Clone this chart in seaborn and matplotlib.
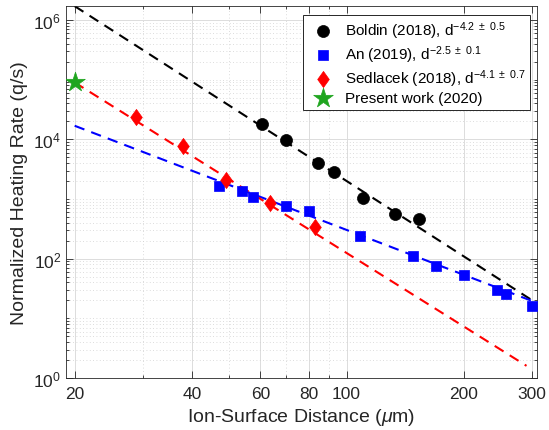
import numpy as np
import pandas as pd
import matplotlib
matplotlib.use("Agg")
import matplotlib.pyplot as plt
import matplotlib.ticker as mticker
from matplotlib.path import Path
import seaborn as sns

# --- data ---
boldin_d = [60.7, 70.0, 84.4, 92.7, 110.4, 133.4, 153.3]
boldin_q = [1.79e4, 9.86e3, 3.96e3, 2.87e3, 1.04e3, 567, 457]

an_d = [47.0, 53.8, 57.4, 70.0, 80.0, 108.0, 148.0, 170.0, 200.0, 244.0, 257.0, 300.0]
an_q = [1.65e3, 1.35e3, 1.08e3, 755, 629, 243, 112, 76, 52.6, 30.2, 25.6, 16.1]

sed_d = [28.7, 38.0, 49.1, 63.6, 82.7]
sed_q = [2.34e4, 7.82e3, 2.07e3, 847, 339]

present_d = [20.0]
present_q = [9.0e4]

# end points of the power-law fits (straight on log-log)
boldin_fit_d = [20, 300]
boldin_fit_q = [1.71e6, 20.0]
an_fit_d = [20, 300]
an_fit_q = [1.69e4, 19.5]
sed_fit_d = [20, 290]
sed_fit_q = [9.0e4, 1.6]

x_ticks = [20, 40, 60, 80, 100, 200, 300]
y_ticks = [1e0, 1e2, 1e4, 1e6]

labels = [
    r"Boldin (2018), d$^{-4.2\ \pm\ 0.5}$",
    r"An (2019), d$^{-2.5\ \pm\ 0.1}$",
    r"Sedlacek (2018), d$^{-4.1\ \pm\ 0.7}$",
    "Present work (2020)",
]

# --- style ---
sns.set_style("ticks")
plt.rcParams["font.family"] = ["Liberation Sans", "DejaVu Sans"]
plt.rcParams["mathtext.fontset"] = "custom"
plt.rcParams["mathtext.rm"] = "Liberation Sans"
plt.rcParams["mathtext.it"] = "Liberation Sans:italic"
plt.rcParams["mathtext.bf"] = "Liberation Sans:bold"

axis_col = "#262626"
green = "#1fa51f"

# MATLAB-like diamond (wider than matplotlib's thin 'd')
diamond = Path([(0, 1), (0.72, 0), (0, -1), (-0.72, 0), (0, 1)],
               [Path.MOVETO, Path.LINETO, Path.LINETO, Path.LINETO, Path.CLOSEPOLY])

fig = plt.figure(figsize=(5.49, 4.31), dpi=100)
ax = fig.add_axes([0.1202, 0.1206, 0.8574, 0.8639])

fits = [
    (boldin_fit_d, boldin_fit_q, "black"),
    (an_fit_d, an_fit_q, "#0000ff"),
    (sed_fit_d, sed_fit_q, "#ff0000"),
]
for d, q, c in fits:
    sns.lineplot(x=d, y=q, ax=ax, color=c, linewidth=1.5, linestyle=(0, (5, 3.5)),
                 legend=False, zorder=2)

pts = [
    (boldin_d, boldin_q, "black", "o", 75, labels[0]),
    (an_d, an_q, "#0000ff", "s", 55, labels[1]),
    (sed_d, sed_q, "#ff0000", diamond, 135, labels[2]),
    (present_d, present_q, green, "*", 220, labels[3]),
]
for d, q, c, m, s, lab in pts:
    sns.scatterplot(x=d, y=q, ax=ax, color=c, marker=m, s=s, edgecolor=c,
                    linewidth=0.5, label=lab, zorder=3)

ax.set_xscale("log")
ax.set_yscale("log")
ax.set_xlim(19.0, 308)
ax.set_ylim(1, 1.74e6)

ax.xaxis.set_major_locator(mticker.FixedLocator(x_ticks))
ax.xaxis.set_major_formatter(mticker.FixedFormatter([str(t) for t in x_ticks]))
ax.xaxis.set_minor_locator(mticker.FixedLocator([30, 50, 70, 90]))
ax.xaxis.set_minor_formatter(mticker.NullFormatter())

ax.yaxis.set_major_locator(mticker.FixedLocator(y_ticks))
ax.yaxis.set_major_formatter(mticker.FixedFormatter([r"$10^{%d}$" % int(np.log10(t)) for t in y_ticks]))
ax.yaxis.set_minor_locator(mticker.LogLocator(base=10, subs=np.arange(1, 10), numticks=20))
ax.yaxis.set_minor_formatter(mticker.NullFormatter())

ax.grid(True, which="major", color="#dcdcdc", linewidth=0.7, linestyle="-")
ax.grid(True, which="minor", color="#d0d0d0", linewidth=0.6, linestyle=(0, (1, 3)))
ax.set_axisbelow(True)

ax.tick_params(which="both", direction="in", top=True, right=True, colors=axis_col,
               labelsize=12.5, width=0.6)
ax.tick_params(which="major", length=5)
ax.tick_params(which="minor", length=2.5)
ax.tick_params(axis="x", pad=6)
for sp in ax.spines.values():
    sp.set_color("#262626")
    sp.set_linewidth(0.6)

ax.set_xlabel(r"Ion-Surface Distance ($\mu$m)", fontsize=14, color=axis_col, labelpad=3)
ax.set_ylabel("Normalized Heating Rate (q/s)", fontsize=14, color=axis_col, labelpad=4)

leg = ax.legend(loc="upper right", bbox_to_anchor=(0.986, 0.975), fontsize=11,
                frameon=True, fancybox=False, edgecolor="#262626", framealpha=1,
                handletextpad=0.5, borderpad=0.3, labelspacing=0.15, handlelength=1.9,
                borderaxespad=0, markerscale=1.0)
leg.get_frame().set_linewidth(0.7)
for t in leg.get_texts():
    t.set_color("black")

fig.savefig("out.png", dpi=100)
